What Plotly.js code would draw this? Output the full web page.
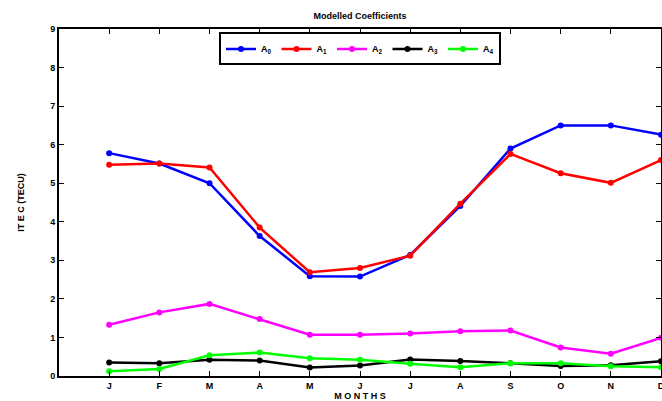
<!DOCTYPE html>
<html>
<head>
<meta charset="utf-8">
<script src="https://cdn.plot.ly/plotly-3.0.1.min.js"></script>
<style>html,body{margin:0;padding:0;background:#fff;}#chart{width:662px;height:401px;}</style>
</head>
<body>
<div id="chart"></div>
<script>
const months = [1,2,3,4,5,6,7,8,9,10,11,12];
const monthLabels = ['J','F','M','A','M','J','J','A','S','O','N','D'];
const A0 = [5.78, 5.51, 5.00, 3.63, 2.59, 2.58, 3.14, 4.41, 5.90, 6.50, 6.50, 6.26];
const A1 = [5.48, 5.51, 5.41, 3.85, 2.69, 2.80, 3.12, 4.47, 5.76, 5.26, 5.01, 5.60];
const A2 = [1.33, 1.65, 1.87, 1.48, 1.07, 1.07, 1.10, 1.16, 1.18, 0.74, 0.58, 0.99];
const A3 = [0.35, 0.33, 0.42, 0.40, 0.22, 0.27, 0.43, 0.39, 0.33, 0.26, 0.28, 0.38];
const A4 = [0.12, 0.18, 0.54, 0.61, 0.46, 0.42, 0.32, 0.23, 0.33, 0.33, 0.25, 0.23];
const seriesNames = ['A<sub>0</sub>','A<sub>1</sub>','A<sub>2</sub>','A<sub>3</sub>','A<sub>4</sub>'];
const seriesColors = ['#0000ff','#ff0000','#ff00ff','#000000','#00ff00'];
const seriesData = [A0, A1, A2, A3, A4];

const font = {family:'Liberation Sans, Arial, sans-serif', size:9, color:'#000', weight:'bold'};

const traces = seriesData.map((ys, i) => ({
  x: months, y: ys, name: seriesNames[i], type:'scatter', mode:'lines+markers',
  line:{color:seriesColors[i], width:2.5},
  marker:{color:seriesColors[i], size:6, symbol:'circle'},
  cliponaxis:false
}));

const axisCommon = {
  showline:true, linecolor:'#000', linewidth:2, mirror:'ticks',
  ticks:'inside', ticklen:5, tickwidth:1, tickcolor:'#000',
  showgrid:false, zeroline:false, tickfont:font, ticklabeloverflow:'allow'
};

const layout = {
  width:662, height:401,
  margin:{l:59, r:1, t:29, b:25},
  paper_bgcolor:'#fff', plot_bgcolor:'#fff',
  font: font,
  title:{text:'Modelled Coefficients', font:{...font, size:9}, x:0.5, xref:'paper', y:1-16/401, yref:'container', yanchor:'middle'},
  xaxis:Object.assign({}, axisCommon, {
    range:[0,12], tickvals:months, ticktext:monthLabels,
    title:{text:'M O N T H S', font:font, standoff:2}
  }),
  yaxis:Object.assign({}, axisCommon, {
    range:[0,9], dtick:1, tick0:0,
    title:{text:'IT E C (TECU)', font:font, standoff:24}
  }),
  legend:{orientation:'h', x:0.5, xanchor:'center', y:0.99, yanchor:'top',
    bordercolor:'#000', borderwidth:2, bgcolor:'#fff', font:font,
    itemwidth:30, tracegroupgap:0},
  showlegend:true
};

Plotly.newPlot('chart', traces, layout, {displayModeBar:false, staticPlot:true});
</script>
</body>
</html>
